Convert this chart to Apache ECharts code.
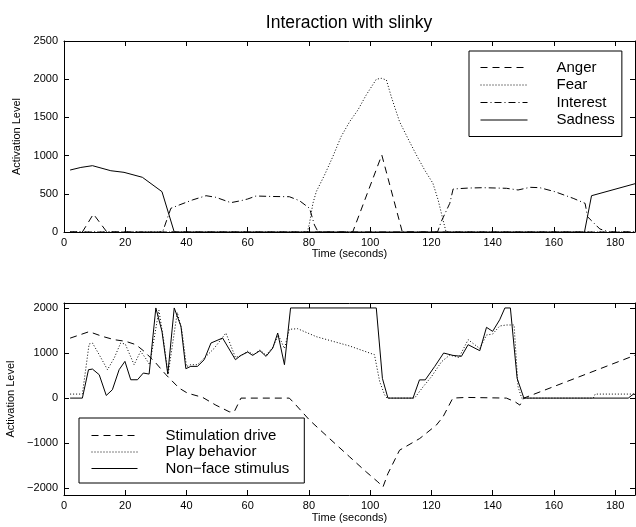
<!DOCTYPE html>
<html>
<head>
<meta charset="utf-8">
<script src="https://cdn.jsdelivr.net/npm/echarts@6/dist/echarts.min.js"></script>
<style>
html,body{margin:0;padding:0;background:#fff;}
#chart{width:636px;height:527px;}
</style>
</head>
<body>
<div id="chart"></div>
<script>
// ---- tick labels ----
const xTicks = [0, 20, 40, 60, 80, 100, 120, 140, 160, 180];
const topYTicks = [0, 500, 1000, 1500, 2000, 2500];
const bottomYTicks = [-2000, -1000, 0, 1000, 2000];

// ---- top panel: [time (s), activation] ----
const anger = [[2,0],[6,0],[9.6,235],[14,0],[94.3,0],[103.8,1008],[110.5,0],[186.5,0]];
const fear = [[2,0],[79.5,0],[80.2,118],[81.3,375],[82.4,528],[85.1,746],[87.8,986],[90.5,1248],[93.3,1444],[96,1597],[98.7,1793],[102,1999],[103.6,2012],[105.3,1990],[106.9,1771],[109.6,1444],[112.3,1226],[115.1,1008],[117.8,811],[120.5,637],[122.2,419],[123.8,157],[124.8,0],[186.5,0]];
const interest = [[2,0],[32.2,0],[34.9,310],[37.6,353],[42,420],[46.4,475],[49.6,454],[54.5,384],[57.8,410],[60,432],[62.7,471],[68,465],[73.6,462],[76.9,410],[80.2,310],[81.8,92],[83,0],[122,0],[123.2,135],[126,375],[127.1,563],[132,575],[136.9,580],[144.5,572],[148.3,550],[152.2,585],[155.4,580],[160.3,528],[166.3,441],[170.2,375],[171,200],[175,40],[178,0],[186.5,0]];
const sadness = [[2,811],[5.5,845],[9.3,868],[15.3,802],[19.6,781],[25.6,716],[32,528],[36,0],[170,0],[172.3,475],[186.5,632]];

// ---- bottom panel ----
const stimulationDrive = [[2,1330],[8.2,1474],[12.5,1370],[16.4,1296],[20.2,1259],[23.5,1185],[26.2,1037],[30,778],[33.3,519],[37.6,222],[40.3,111],[45.3,15],[49.6,-156],[54,-304],[55.6,-304],[57.8,0],[73.6,0],[75.3,-119],[80.2,-489],[86.7,-896],[93.3,-1304],[98.7,-1637],[102.5,-1859],[104.2,-1970],[105.8,-1674],[109.6,-1156],[116.2,-896],[121.6,-600],[123.8,-415],[127,0],[131.4,15],[144.5,0],[147.3,-81],[148.9,-156],[150.2,0],[186.5,950]];
const playBehavior = [[2,89],[6,89],[8.2,1200],[9.3,1222],[11.5,963],[14.2,630],[16.4,889],[18.5,1222],[20,1200],[22.9,741],[25,1037],[26.5,900],[28,741],[31,1950],[32.5,1300],[34,530],[37,1900],[38.5,1500],[40,700],[41.4,741],[43.6,741],[46,900],[49,1100],[52.9,1444],[56,900],[58,950],[60,1040],[62,960],[64,1070],[66,950],[68.2,1130],[70,1400],[72,1100],[73.6,1526],[76.3,1540],[82.4,1363],[93.3,1156],[101.4,963],[103.1,370],[104.7,74],[105.5,0],[114.5,0],[117.3,252],[120,474],[123.3,807],[126,955],[129,900],[132,1296],[135.8,1100],[138,1400],[140,1420],[142.3,1600],[144.5,1622],[147,1622],[148.3,252],[149.5,0],[172.9,0],[173.5,89],[186.5,89]];
const nonFaceStimulus = [[2,0],[6,0],[8,630],[9.3,644],[11.5,519],[13.8,59],[15.8,185],[18,630],[19.9,815],[21.8,407],[24,407],[25.9,556],[27.8,533],[30,2000],[32,1481],[33.9,533],[36,2000],[38.2,1593],[39.8,652],[41.4,704],[43.6,704],[45.8,852],[48,1222],[51.8,1333],[56,852],[57.8,948],[60,1022],[61.6,948],[64,1052],[66,926],[68.2,1111],[69.8,1444],[72,741],[74,2000],[102,2000],[104,437],[105.8,0],[114,0],[116.1,404],[118,404],[121.1,704],[124,1000],[127,948],[129.8,926],[132,1185],[135.8,1052],[138,1570],[140,1481],[142.3,1737],[144,2000],[145.8,2000],[148,437],[150.2,0],[184.3,0],[186,89],[186.5,80]];

const FONT = "'Liberation Sans', Arial, Helvetica, sans-serif";
const DASH = [7, 5], DOT = [1, 2], DASHDOT = [7, 3, 1, 3];
const fmt = v => String(v).replace('-', '\u2212');

function xAx(grid, pos, showLabel, name, gap) {
  return {
    type: 'value', gridIndex: grid, position: pos, min: 0, max: 186.5,
    name: name || '', nameLocation: 'middle', nameGap: gap || 0,
    nameTextStyle: {fontFamily: FONT, fontSize: 11, color: '#000'},
    axisLine: {show: true, onZero: false, lineStyle: {color: '#000', width: 1}},
    axisTick: {show: true, inside: true, length: 5, customValues: xTicks, lineStyle: {color: '#000'}},
    axisLabel: {show: showLabel, customValues: xTicks, margin: 5, fontFamily: FONT, fontSize: 11, color: '#000'},
    splitLine: {show: false}
  };
}
function yAx(grid, pos, showLabel, min, max, ticks, name, gap) {
  return {
    type: 'value', gridIndex: grid, position: pos, min: min, max: max,
    name: name || '', nameLocation: 'middle', nameGap: gap || 0, nameRotate: 90,
    nameTextStyle: {fontFamily: FONT, fontSize: 11, color: '#000'},
    axisLine: {show: true, onZero: false, lineStyle: {color: '#000', width: 1}},
    axisTick: {show: true, inside: true, length: 5, customValues: ticks, lineStyle: {color: '#000'}},
    axisLabel: {show: showLabel, customValues: ticks, margin: 6, fontFamily: FONT, fontSize: 11, color: '#000', formatter: fmt},
    splitLine: {show: false}
  };
}
function ln(name, data, xi, yi, dash) {
  return {
    name: name, type: 'line', data: data, xAxisIndex: xi, yAxisIndex: yi,
    symbol: 'none', showSymbol: false, silent: true, clip: true,
    lineStyle: {color: '#000', width: 1, type: dash},
    itemStyle: {color: '#000'}
  };
}
const legendCommon = {
  orient: 'vertical', itemHeight: 15, selectedMode: false,
  backgroundColor: '#fff', borderColor: '#000', borderWidth: 1, borderRadius: 0,
  textStyle: {fontFamily: FONT, fontSize: 15, color: '#000'},
  itemStyle: {color: 'rgba(0,0,0,0)', borderColor: 'rgba(0,0,0,0)', borderWidth: 0, opacity: 0},
  lineStyle: {width: 1}
};

const chart = echarts.init(document.getElementById('chart'), null, {renderer: 'canvas'});
chart.setOption({
  animation: false,
  backgroundColor: '#fff',
  title: {text: 'Interaction with slinky', left: 344, top: 9, textAlign: 'center',
    textStyle: {fontFamily: FONT, fontSize: 17.5, fontWeight: 'normal', color: '#000'}},
  grid: [
    {left: 64, right: 1, top: 41, height: 191, outerBoundsMode: 'none'},
    {left: 64, right: 1, top: 303, height: 192, outerBoundsMode: 'none'}
  ],
  xAxis: [
    xAx(0, 'bottom', true, 'Time (seconds)', 10),
    xAx(0, 'top', false),
    xAx(1, 'bottom', true, 'Time (seconds)', 17),
    xAx(1, 'top', false)
  ],
  yAxis: [
    yAx(0, 'left', true, 0, 2500, topYTicks, 'Activation Level', 26),
    yAx(0, 'right', false, 0, 2500, topYTicks),
    yAx(1, 'left', true, -2150, 2110, bottomYTicks, 'Activation Level', 40),
    yAx(1, 'right', false, -2150, 2110, bottomYTicks)
  ],
  legend: [
    Object.assign({}, legendCommon, {
      left: 469, top: 51, itemWidth: 47, itemGap: 2.5, padding: [9, 7, 9, 11],
      data: ['Anger', 'Fear', 'Interest', 'Sadness'],
      textStyle: Object.assign({}, legendCommon.textStyle, {padding: [0, 0, 0, 24]})
    }),
    Object.assign({}, legendCommon, {
      left: 79, top: 418, itemWidth: 46, itemGap: 1.5, padding: [10, 15, 7, 12],
      data: ['Stimulation drive', 'Play behavior', 'Non\u2212face stimulus'],
      textStyle: Object.assign({}, legendCommon.textStyle, {padding: [0, 0, 0, 23]})
    })
  ],
  series: [
    ln('Anger', anger, 0, 0, DASH),
    ln('Fear', fear, 0, 0, DOT),
    ln('Interest', interest, 0, 0, DASHDOT),
    ln('Sadness', sadness, 0, 0, 'solid'),
    ln('Stimulation drive', stimulationDrive, 2, 2, DASH),
    ln('Play behavior', playBehavior, 2, 2, DOT),
    ln('Non\u2212face stimulus', nonFaceStimulus, 2, 2, 'solid')
  ]
});
</script>
</body>
</html>
